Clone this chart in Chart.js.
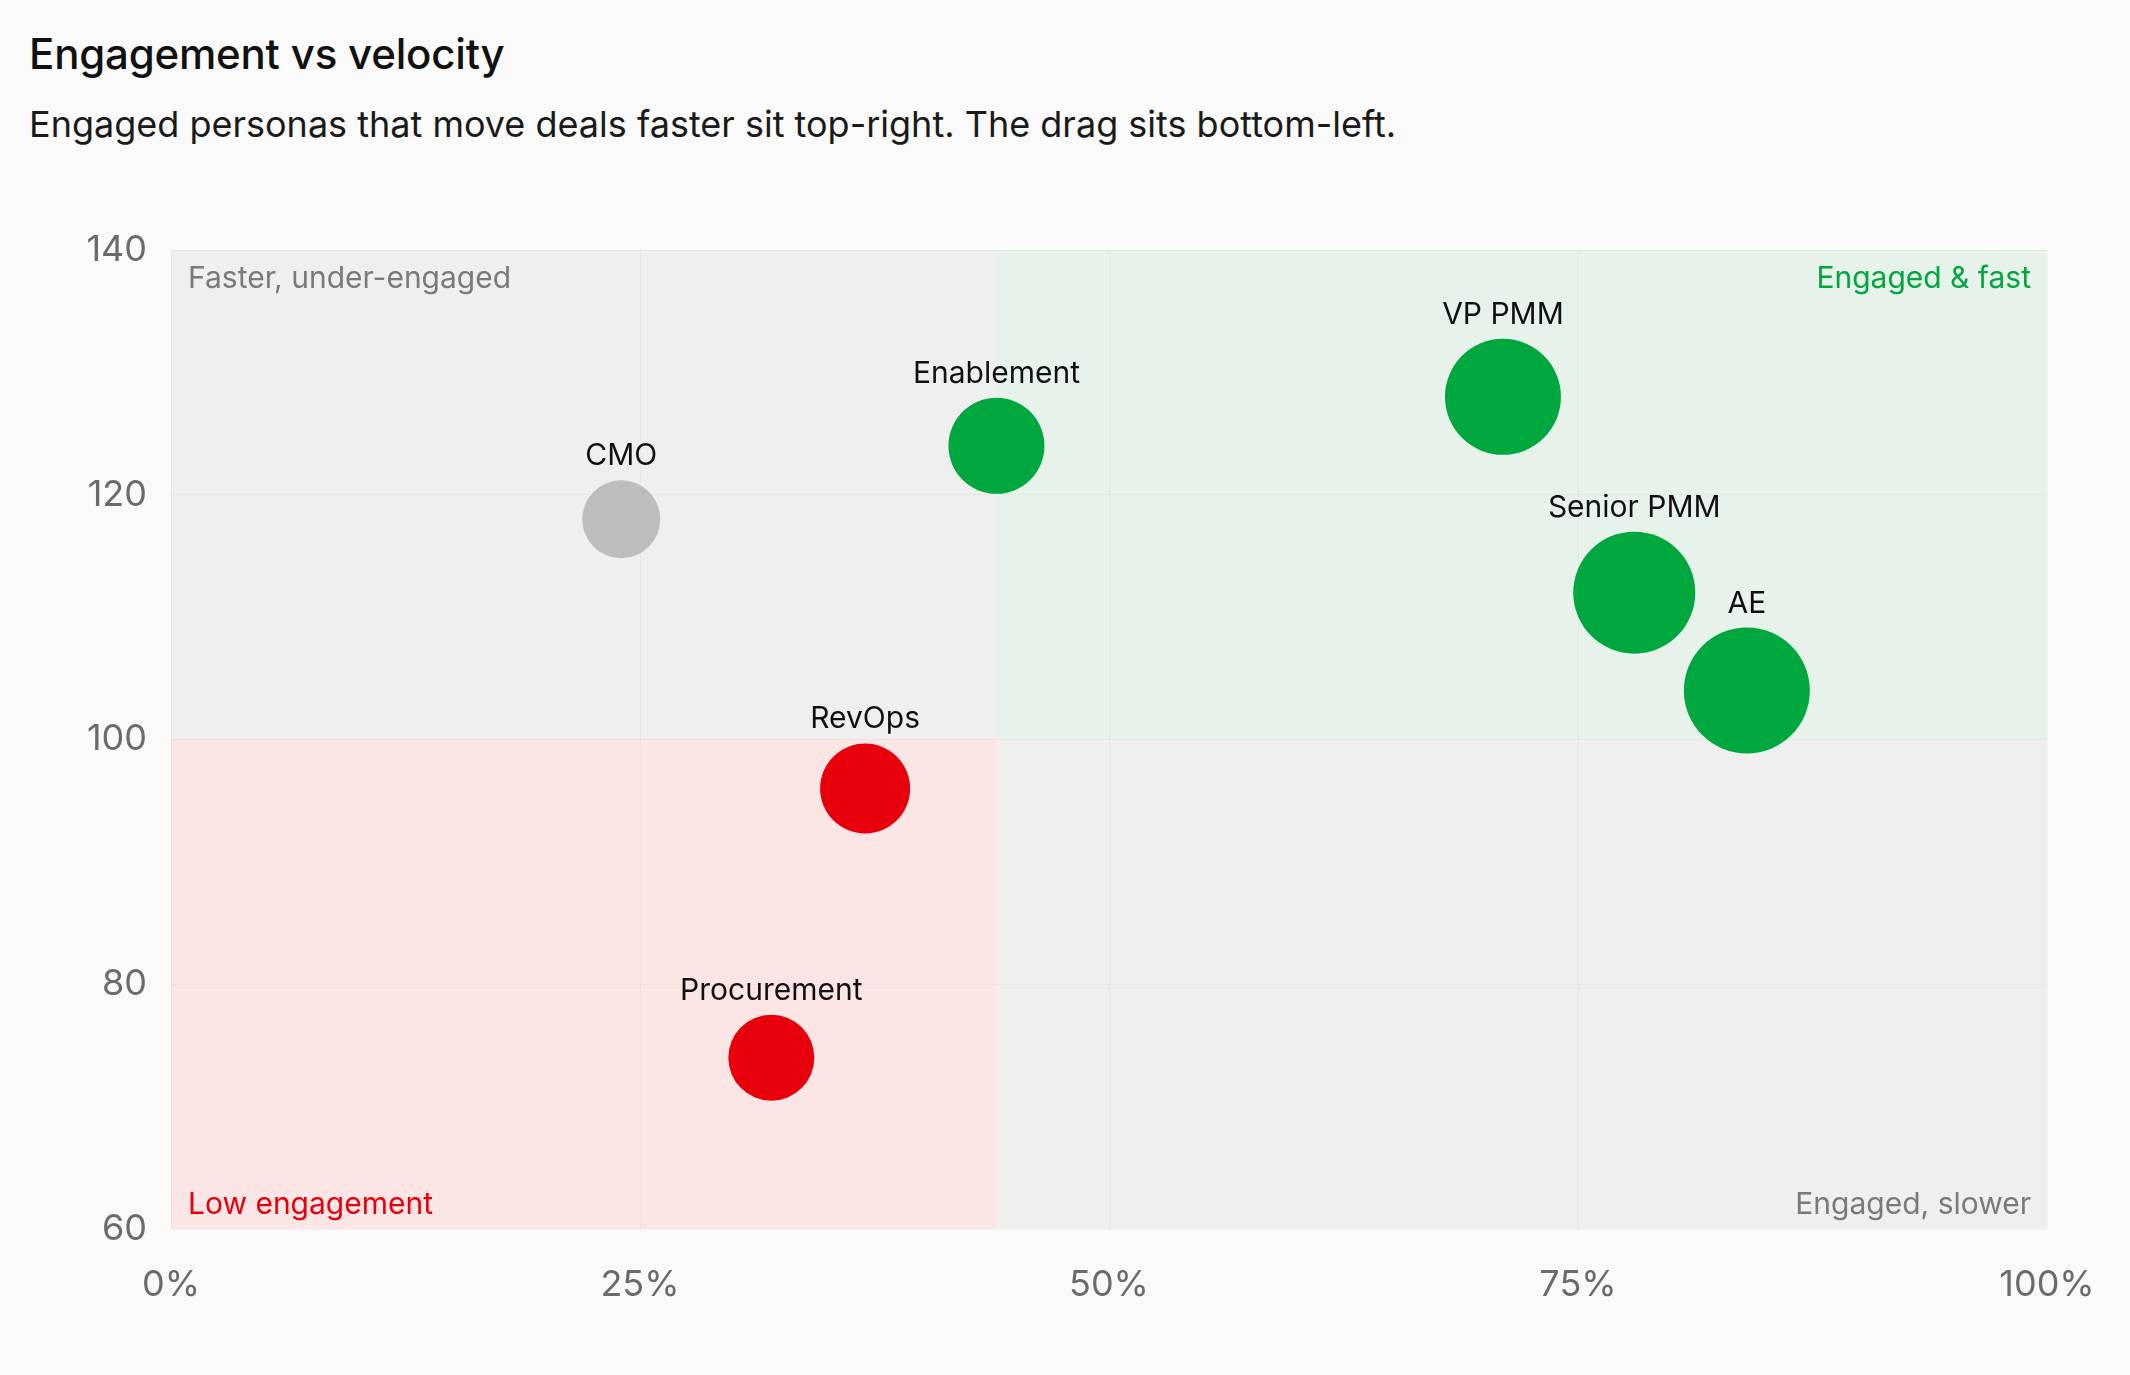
<!DOCTYPE html>
<html lang="en">
<head>
  <meta charset="UTF-8" />
  <title>Engagement vs velocity</title>
  <script src="https://cdn.jsdelivr.net/npm/chart.js"></script>
  <style>
    html, body { margin: 0; padding: 0; background: #fafafa; }
    body { font-family: Inter, "Noto Sans", sans-serif; width: 2130px; height: 1375px; position: relative; overflow: hidden; }
    h1 { position: absolute; left: 29px; top: 28px; margin: 0; font-size: 42px; font-weight: 500; color: #111; letter-spacing: -0.2px; }
    p.sub { position: absolute; left: 29px; top: 102px; margin: 0; font-size: 36px; font-weight: 400; color: #1a1a1a; }
    #chartBox { position: absolute; left: 0; top: 0; width: 2130px; height: 1375px; }
  </style>
</head>
<body>

  <h1>Engagement vs velocity</h1>
  <p class="sub">Engaged personas that move deals faster sit top-right. The drag sits bottom-left.</p>

  <div id="chartBox">
    <canvas id="bubbleChart"></canvas>
  </div>

  <script>
    // data
    const personas   = ['CMO', 'Enablement', 'VP PMM', 'Senior PMM', 'AE', 'RevOps', 'Procurement'];
    const engagement = [24, 44, 71, 78, 84, 37, 32];        // % engaged (x)
    const velocity   = [118, 124, 128, 112, 104, 96, 74];   // velocity index (y)
    const bubbleSize = [39, 48, 58, 61, 63, 45, 43];        // bubble radius
    const status     = ['neutral', 'good', 'good', 'good', 'good', 'bad', 'bad'];

    const xTicks = [0, 25, 50, 75, 100];
    const yTicks = [60, 80, 100, 120, 140];

    const xSplit = 44;   // engagement threshold
    const ySplit = 100;  // velocity threshold

    const quadrantNames = {
      topLeft: 'Faster, under-engaged',
      topRight: 'Engaged & fast',
      bottomLeft: 'Low engagement',
      bottomRight: 'Engaged, slower'
    };

    const GREEN = '#00a63e';
    const RED = '#e7000b';
    const GREY = '#bdbdbd';
    const statusColor = { good: GREEN, bad: RED, neutral: GREY };

    Chart.defaults.font.family = 'Inter, "Noto Sans", sans-serif';

    const points = personas.map((p, i) => ({
      x: engagement[i], y: velocity[i], r: bubbleSize[i]
    }));

    const quadrantBg = {
      id: 'quadrantBg',
      beforeDraw(chart) {
        const { ctx, chartArea: a, scales: { x, y } } = chart;
        const sx = x.getPixelForValue(xSplit);
        const sy = y.getPixelForValue(ySplit);
        ctx.save();
        ctx.fillStyle = '#efefef';
        ctx.fillRect(a.left, a.top, a.width, a.height);
        ctx.fillStyle = '#e7f3ea';
        ctx.fillRect(sx, a.top, a.right - sx, sy - a.top);
        ctx.fillStyle = '#fbe6e5';
        ctx.fillRect(a.left, sy, sx - a.left, a.bottom - sy);
        ctx.restore();
      },
      afterDraw(chart) {
        const { ctx, chartArea: a } = chart;
        ctx.save();
        ctx.font = '30px Inter, "Noto Sans", sans-serif';
        ctx.textBaseline = 'alphabetic';
        ctx.textAlign = 'left';
        ctx.fillStyle = '#7a7a7a';
        ctx.fillText(quadrantNames.topLeft, a.left + 17, a.top + 38);
        ctx.fillStyle = RED;
        ctx.fillText(quadrantNames.bottomLeft, a.left + 17, a.bottom - 15);
        ctx.textAlign = 'right';
        ctx.fillStyle = GREEN;
        ctx.fillText(quadrantNames.topRight, a.right - 16, a.top + 38);
        ctx.fillStyle = '#7a7a7a';
        ctx.fillText(quadrantNames.bottomRight, a.right - 16, a.bottom - 15);
        ctx.restore();
      }
    };

    const bubbleLabels = {
      id: 'bubbleLabels',
      afterDatasetsDraw(chart) {
        const { ctx } = chart;
        const meta = chart.getDatasetMeta(0);
        ctx.save();
        ctx.font = '30px Inter, "Noto Sans", sans-serif';
        ctx.fillStyle = '#111';
        ctx.textAlign = 'center';
        ctx.textBaseline = 'alphabetic';
        meta.data.forEach((el, i) => {
          const r = el.options.radius;
          ctx.fillText(personas[i], el.x, el.y - r - 15);
        });
        ctx.restore();
      }
    };

    new Chart(document.getElementById('bubbleChart'), {
      type: 'bubble',
      data: {
        datasets: [{
          label: 'Personas',
          data: points,
          backgroundColor: status.map(s => statusColor[s]),
          borderWidth: 0,
          hoverBorderWidth: 0
        }]
      },
      options: {
        responsive: true,
        maintainAspectRatio: false,
        animation: false,
        layout: { padding: { left: 0, top: 250, right: 83, bottom: 46 } },
        plugins: {
          legend: { display: false },
          tooltip: { enabled: false }
        },
        scales: {
          x: {
            type: 'linear',
            min: 0,
            max: 100,
            afterBuildTicks: s => { s.ticks = xTicks.map(v => ({ value: v })); },
            afterFit: s => { s.height = 100; },
            ticks: {
              callback: v => v + '%',
              color: '#6b6b6b',
              font: { size: 36 },
              padding: 35,
              maxRotation: 0
            },
            grid: { color: 'rgba(0,0,0,0.03)', drawTicks: false },
            border: { display: false }
          },
          y: {
            type: 'linear',
            min: 60,
            max: 140,
            afterBuildTicks: s => { s.ticks = yTicks.map(v => ({ value: v })); },
            afterFit: s => { s.width = 171; },
            ticks: {
              color: '#6b6b6b',
              font: { size: 36 },
              padding: 24
            },
            grid: { color: 'rgba(0,0,0,0.03)', drawTicks: false },
            border: { display: false }
          }
        }
      },
      plugins: [quadrantBg, bubbleLabels]
    });
  </script>

</body>
</html>
